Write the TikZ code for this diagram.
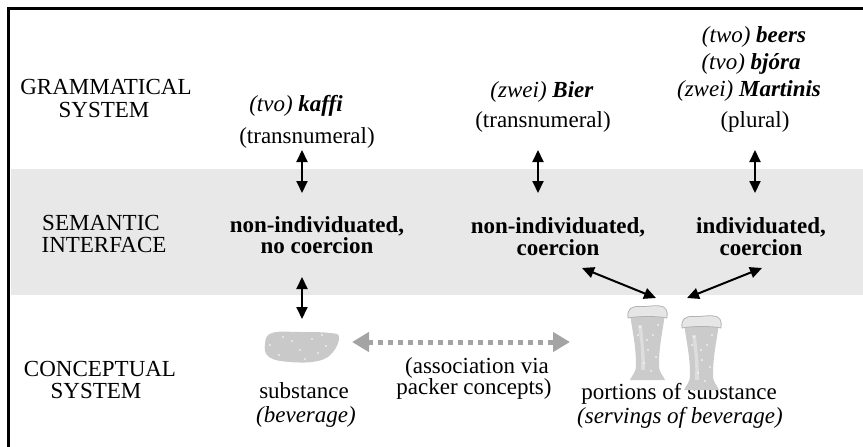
\documentclass[tikz,border=0pt]{standalone}
\usepackage{fontspec}
\setmainfont{Liberation Serif}
\usetikzlibrary{arrows.meta}
\definecolor{bandgray}{HTML}{E8E8E8}
\definecolor{assocgray}{HTML}{A4A4A4}
\definecolor{blobgray}{HTML}{C9C9C9}
\definecolor{glassgray}{HTML}{CBCBCB}
\definecolor{foamgray}{HTML}{E6E6E6}
\definecolor{rimgray}{HTML}{B2B2B2}
\newcommand\myglass[2]{%
  \begin{scope}[shift={(#1,#2)}]
    \fill[glassgray] (2,8) -- (37,8) .. controls (35,25) and (31,40) .. (31,60)
      .. controls (31,68) and (35,70) .. (37,75) -- (2,75)
      .. controls (4,70) and (8,68) .. (8,60) .. controls (8,40) and (4,25) .. (2,8) -- cycle;
    \fill[white,opacity=0.35] (10,20) .. controls (12,35) and (14,45) .. (13,65) -- (17,65) .. controls (17,45) and (15,35) .. (14,20) -- cycle;
    \fill[foamgray,draw=rimgray,line width=0.8pt] (0,13) .. controls (-1,4) and (3,1) .. (12,1.5)
      .. controls (20,2) and (24,0) .. (32,1) .. controls (38,1.5) and (40,6) .. (39,13)
      .. controls (30,11) and (10,11) .. (0,13) -- cycle;
    \foreach \p in {(12,22),(25,30),(20,45),(28,52),(16,58),(23,66),(10,30),(30,20),(19,35)}
      \fill[white] \p circle (0.9);
  \end{scope}}
\begin{document}
\begin{tikzpicture}[x=1pt,y=-1pt,
  txt/.style={font=\fontsize{23}{25}\selectfont, inner sep=0pt, anchor=base},
  bld/.style={font=\fontsize{23}{25}\selectfont\bfseries, inner sep=0pt, anchor=base},
  dbl/.style={line width=2pt, {Triangle[length=12pt,width=11pt]}-{Triangle[length=12pt,width=11pt]}},
  assoc/.style={line width=5pt, draw=assocgray, dash pattern=on 5pt off 5pt,
    {Triangle[length=17pt,width=19pt]}-{Triangle[length=17pt,width=19pt]}}]
\useasboundingbox (0,0) rectangle (863,447);
% band and frame
\fill[bandgray] (11,169) rectangle (863,295);
\draw[line width=2.5pt] (8.5,447) -- (8.5,8.5) -- (863,8.5);
% row labels
\node[txt] (gram1) at (106,94) {GRAMMATICAL};
\node[txt] (gram2) at (104,117) {SYSTEM};
\node[txt] (sem1) at (101,230) {SEMANTIC};
\node[txt] (sem2) at (104,252) {INTERFACE};
\node[txt] (con1) at (100,376) {CONCEPTUAL};
\node[txt] (con2) at (96,398) {SYSTEM};
% column 1
\node[txt] (kaffi) at (296,111) {\textit{(tvo) \textbf{kaffi}}};
\node[txt] (trans1) at (307,143) {(transnumeral)};
\node[bld] (ni1a) at (317,232) {non-individuated,};
\node[bld] (ni1b) at (317,253) {no coercion};
\node[txt] (subst) at (304,398) {substance};
\node[txt] (bev) at (306,422) {\textit{(beverage)}};
% column 2
\node[txt] (bier) at (542,97) {\textit{(zwei) \textbf{Bier}}};
\node[txt] (trans2) at (543,127) {(transnumeral)};
\node[bld] (ni2a) at (558,233) {non-individuated,};
\node[bld] (ni2b) at (558,255) {coercion};
% column 3
\node[txt] (beers) at (754,42) {\textit{(two) \textbf{beers}}};
\node[txt] (bjora) at (751,69) {\textit{(tvo) \textbf{bjóra}}};
\node[txt] (mart) at (749,96) {\textit{(zwei) \textbf{Martinis}}};
\node[txt] (plural) at (755,127) {(plural)};
\node[bld] (ind1) at (761,233) {individuated,};
\node[bld] (ind2) at (761,255) {coercion};
% association text
\node[txt] (assoc1) at (477,373) {(association via};
\node[txt] (assoc2) at (474,394) {packer concepts)};
\node[txt] (port1) at (679,399) {portions of substance};
\node[txt] (port2) at (680,423) {\textit{(servings of beverage)}};
% substance blob
\fill[blobgray] plot[smooth cycle, tension=0.7] coordinates {(265,344) (272,333) (300,332) (330,333) (339,337) (333,352) (318,361) (290,362) (269,357)};
\foreach \p in {(270,345),(283,337),(292,341),(300,350),(312,339),(318,353),(326,346),(305,359),(279,355),(322,335)}
  \fill[white] \p circle (0.9);
% glasses
\myglass{628}{305}
\myglass{682}{315}
% arrow ends
\coordinate (k1t) at (302,150); \coordinate (k1b) at (302,193);
\coordinate (k2t) at (302,277); \coordinate (k2b) at (302,319);
\coordinate (b1t) at (538,150); \coordinate (b1b) at (538,193);
\coordinate (p1t) at (755,150); \coordinate (p1b) at (755,193);
\coordinate (d1a) at (582,268); \coordinate (d1b) at (656,298);
\coordinate (d2a) at (687,298); \coordinate (d2b) at (762,268);
\coordinate (as1) at (352,342); \coordinate (as2) at (570,342);
\draw[dbl] (k1t) -- (k1b);
\draw[dbl] (k2t) -- (k2b);
\draw[dbl] (b1t) -- (b1b);
\draw[dbl] (p1t) -- (p1b);
\draw[dbl] (d1a) -- (d1b);
\draw[dbl] (d2a) -- (d2b);
\draw[assoc] (as1) -- (as2);
\end{tikzpicture}
\end{document}
